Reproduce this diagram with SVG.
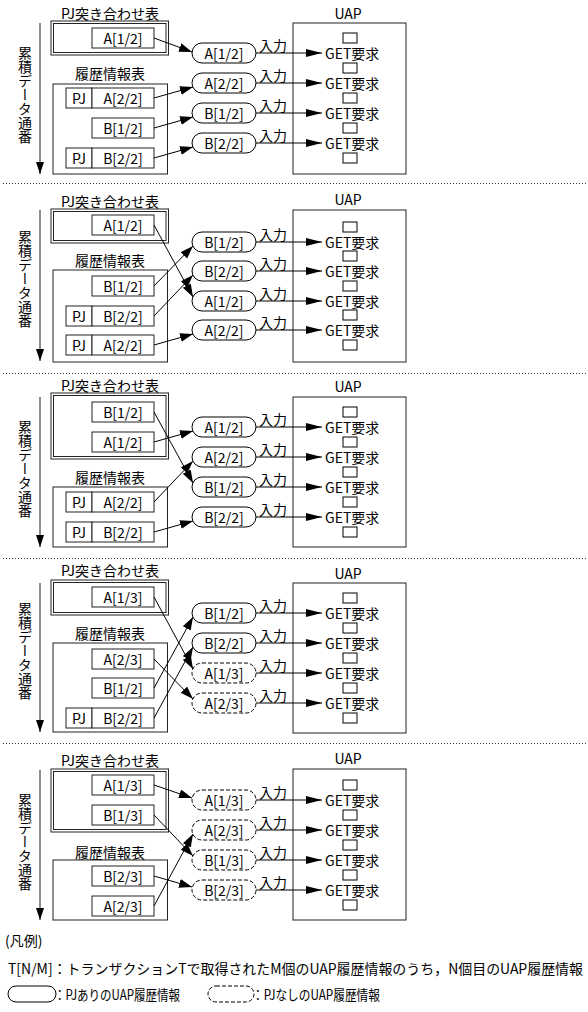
<svg xmlns="http://www.w3.org/2000/svg" width="588" height="1012" viewBox="0 0 588 1012">
<defs>
<style>
text{font-family:"Noto Sans CJK JP","Noto Sans CJK SC",sans-serif;font-size:14px;fill:#000}
.c{text-anchor:middle;dominant-baseline:central}
.l{text-anchor:start;dominant-baseline:central}
.bx{fill:#fff;stroke:#222;stroke-width:1}
.pill{fill:#fff;stroke:#000;stroke-width:1}
.dash{fill:#fff;stroke:#000;stroke-width:1;stroke-dasharray:4 2}
.sq{fill:#fff;stroke:#000;stroke-width:1}
.cn{fill:none;stroke:#000;stroke-width:1;marker-end:url(#ah)}
.ua{fill:none;stroke:#000;stroke-width:1;marker-end:url(#ah2)}
.va{fill:none;stroke:#666;stroke-width:1.5;marker-end:url(#ah3)}
.sep{fill:none;stroke:#333;stroke-width:1;stroke-dasharray:1 2}
.vt{writing-mode:vertical-rl;text-anchor:middle;font-size:14px}
</style>
<marker id="ah" markerUnits="userSpaceOnUse" markerWidth="13" markerHeight="10" refX="13" refY="4.5" orient="auto"><path d="M0,0 L13,4.5 L0,9 z" fill="#000"/></marker>
<marker id="ah2" markerUnits="userSpaceOnUse" markerWidth="16" markerHeight="9" refX="16" refY="4" orient="auto"><path d="M0,0 L16,4 L0,8 z" fill="#000"/></marker>
<marker id="ah3" markerUnits="userSpaceOnUse" markerWidth="12" markerHeight="8" refX="12" refY="4" orient="auto"><path d="M0,0 L12,4 L0,8 z" fill="#000"/></marker>
</defs>
<rect x="0" y="0" width="588" height="1012" fill="#fff"/>

<g id="separators">
<line class="sep" x1="3" y1="183.5" x2="586" y2="183.5"/>
<line class="sep" x1="3" y1="373.5" x2="586" y2="373.5"/>
<line class="sep" x1="3" y1="558.5" x2="586" y2="558.5"/>
<line class="sep" x1="3" y1="743.5" x2="586" y2="743.5"/>
</g>

<!-- ===== Panel 1 ===== -->
<g id="panel1">
<g id="p1-seq"><path class="va" d="M40,23 V174"/><text class="vt" x="25" y="95">累積データ通番</text></g>
<g id="p1-pj"><text class="c" x="110" y="13">PJ突き合わせ表</text>
<rect class="bx" x="51" y="21" width="117.5" height="34"/><rect class="bx" x="53.5" y="23.5" width="112.5" height="29"/>
<g id="p1-pj-a12"><rect class="bx" x="92" y="28" width="62" height="20"/><text class="c" x="123" y="38">A[1/2]</text></g></g>
<g id="p1-hist"><text class="c" x="110" y="73">履歴情報表</text>
<rect class="bx" x="53" y="84" width="114.5" height="90"/>
<g id="p1-h-a22"><rect class="bx" x="66" y="88" width="26" height="20"/><text class="c" x="79" y="98">PJ</text><rect class="bx" x="92" y="88" width="62" height="20"/><text class="c" x="123" y="98">A[2/2]</text></g>
<g id="p1-h-b12"><rect class="bx" x="92" y="118" width="62" height="20"/><text class="c" x="123" y="128">B[1/2]</text></g>
<g id="p1-h-b22"><rect class="bx" x="66" y="148" width="26" height="20"/><text class="c" x="79" y="158">PJ</text><rect class="bx" x="92" y="148" width="62" height="20"/><text class="c" x="123" y="158">B[2/2]</text></g></g>
<g id="p1-pill1"><rect class="pill" x="192" y="43" width="64" height="20" rx="10"/><text class="c" x="224" y="53">A[1/2]</text></g>
<g id="p1-pill2"><rect class="pill" x="192" y="73" width="64" height="20" rx="10"/><text class="c" x="224" y="83">A[2/2]</text></g>
<g id="p1-pill3"><rect class="pill" x="192" y="103" width="64" height="20" rx="10"/><text class="c" x="224" y="113">B[1/2]</text></g>
<g id="p1-pill4"><rect class="pill" x="192" y="133" width="64" height="20" rx="10"/><text class="c" x="224" y="143">B[2/2]</text></g>
<g id="p1-uap"><text class="c" x="348" y="13">UAP</text><rect class="bx" x="293" y="23" width="113" height="151"/>
<rect class="sq" x="343" y="33" width="14" height="10"/><rect class="sq" x="343" y="63" width="14" height="10"/><rect class="sq" x="343" y="93" width="14" height="10"/><rect class="sq" x="343" y="123" width="14" height="10"/><rect class="sq" x="343" y="153" width="14" height="10"/>
<text class="l" x="325" y="53">GET要求</text><text class="l" x="325" y="83">GET要求</text><text class="l" x="325" y="113">GET要求</text><text class="l" x="325" y="143">GET要求</text></g>
</g>
<g id="p1-connectors">
<path class="cn" d="M154,38 L192,52"/><path class="cn" d="M154,98 L193,87"/><path class="cn" d="M154,128 L193,117"/><path class="cn" d="M154,158 L193,147"/>
<path class="ua" d="M256,53 H322"/><path class="ua" d="M256,83 H322"/><path class="ua" d="M256,113 H322"/><path class="ua" d="M256,143 H322"/>
<text class="c" x="273" y="45">入力</text><text class="c" x="273" y="75">入力</text><text class="c" x="273" y="105">入力</text><text class="c" x="273" y="135">入力</text>
</g>

<!-- ===== Panel 2 ===== -->
<g id="panel2">
<g id="p2-seq"><path class="va" d="M40,210 V361"/><text class="vt" x="25" y="279">累積データ通番</text></g>
<g id="p2-pj"><text class="c" x="110" y="201">PJ突き合わせ表</text>
<rect class="bx" x="51" y="209" width="117.5" height="34"/><rect class="bx" x="53.5" y="211.5" width="112.5" height="29"/>
<g id="p2-pj-a12"><rect class="bx" x="92" y="215" width="62" height="20"/><text class="c" x="123" y="225">A[1/2]</text></g></g>
<g id="p2-hist"><text class="c" x="110" y="260">履歴情報表</text>
<rect class="bx" x="53" y="270" width="114.5" height="92"/>
<g id="p2-h-b12"><rect class="bx" x="92" y="276" width="62" height="20"/><text class="c" x="123" y="286">B[1/2]</text></g>
<g id="p2-h-b22"><rect class="bx" x="66" y="306" width="26" height="20"/><text class="c" x="79" y="316">PJ</text><rect class="bx" x="92" y="306" width="62" height="20"/><text class="c" x="123" y="316">B[2/2]</text></g>
<g id="p2-h-a22"><rect class="bx" x="66" y="335" width="26" height="20"/><text class="c" x="79" y="345">PJ</text><rect class="bx" x="92" y="335" width="62" height="20"/><text class="c" x="123" y="345">A[2/2]</text></g></g>
<g id="p2-pill1"><rect class="pill" x="192" y="232" width="64" height="20" rx="10"/><text class="c" x="224" y="242">B[1/2]</text></g>
<g id="p2-pill2"><rect class="pill" x="192" y="261" width="64" height="20" rx="10"/><text class="c" x="224" y="271">B[2/2]</text></g>
<g id="p2-pill3"><rect class="pill" x="192" y="291" width="64" height="20" rx="10"/><text class="c" x="224" y="301">A[1/2]</text></g>
<g id="p2-pill4"><rect class="pill" x="192" y="320" width="64" height="20" rx="10"/><text class="c" x="224" y="330">A[2/2]</text></g>
<g id="p2-uap"><text class="c" x="348" y="199">UAP</text><rect class="bx" x="293" y="210" width="113" height="152"/>
<rect class="sq" x="343" y="222" width="14" height="10"/><rect class="sq" x="343" y="251" width="14" height="10"/><rect class="sq" x="343" y="281" width="14" height="10"/><rect class="sq" x="343" y="310" width="14" height="10"/><rect class="sq" x="343" y="340" width="14" height="10"/>
<text class="l" x="325" y="242">GET要求</text><text class="l" x="325" y="271">GET要求</text><text class="l" x="325" y="301">GET要求</text><text class="l" x="325" y="330">GET要求</text></g>
</g>
<g id="p2-connectors">
<path class="cn" d="M154,225 L193,297"/><path class="cn" d="M154,286 L193,246"/><path class="cn" d="M154,316 L193,275"/><path class="cn" d="M154,345 L193,334"/>
<path class="ua" d="M256,242 H322"/><path class="ua" d="M256,271 H322"/><path class="ua" d="M256,301 H322"/><path class="ua" d="M256,330 H322"/>
<text class="c" x="273" y="234">入力</text><text class="c" x="273" y="263">入力</text><text class="c" x="273" y="293">入力</text><text class="c" x="273" y="322">入力</text>
</g>

<!-- ===== Panel 3 ===== -->
<g id="panel3">
<g id="p3-seq"><path class="va" d="M40,397 V547"/><text class="vt" x="25" y="469">累積データ通番</text></g>
<g id="p3-pj"><text class="c" x="110" y="385">PJ突き合わせ表</text>
<rect class="bx" x="51" y="393" width="117.5" height="66"/><rect class="bx" x="53.5" y="395.5" width="112.5" height="61"/>
<g id="p3-pj-b12"><rect class="bx" x="92" y="402" width="62" height="20"/><text class="c" x="123" y="412">B[1/2]</text></g>
<g id="p3-pj-a12"><rect class="bx" x="92" y="432" width="62" height="20"/><text class="c" x="123" y="442">A[1/2]</text></g></g>
<g id="p3-hist"><text class="c" x="110" y="477">履歴情報表</text>
<rect class="bx" x="53" y="487" width="114.5" height="60"/>
<g id="p3-h-a22"><rect class="bx" x="66" y="492" width="26" height="20"/><text class="c" x="79" y="502">PJ</text><rect class="bx" x="92" y="492" width="62" height="20"/><text class="c" x="123" y="502">A[2/2]</text></g>
<g id="p3-h-b22"><rect class="bx" x="66" y="522" width="26" height="20"/><text class="c" x="79" y="532">PJ</text><rect class="bx" x="92" y="522" width="62" height="20"/><text class="c" x="123" y="532">B[2/2]</text></g></g>
<g id="p3-pill1"><rect class="pill" x="192" y="417" width="64" height="20" rx="10"/><text class="c" x="224" y="427">A[1/2]</text></g>
<g id="p3-pill2"><rect class="pill" x="192" y="447" width="64" height="20" rx="10"/><text class="c" x="224" y="457">A[2/2]</text></g>
<g id="p3-pill3"><rect class="pill" x="192" y="477" width="64" height="20" rx="10"/><text class="c" x="224" y="487">B[1/2]</text></g>
<g id="p3-pill4"><rect class="pill" x="192" y="507" width="64" height="20" rx="10"/><text class="c" x="224" y="517">B[2/2]</text></g>
<g id="p3-uap"><text class="c" x="348" y="386">UAP</text><rect class="bx" x="293" y="397" width="113" height="150"/>
<rect class="sq" x="343" y="407" width="14" height="10"/><rect class="sq" x="343" y="437" width="14" height="10"/><rect class="sq" x="343" y="467" width="14" height="10"/><rect class="sq" x="343" y="497" width="14" height="10"/><rect class="sq" x="343" y="527" width="14" height="10"/>
<text class="l" x="325" y="427">GET要求</text><text class="l" x="325" y="457">GET要求</text><text class="l" x="325" y="487">GET要求</text><text class="l" x="325" y="517">GET要求</text></g>
</g>
<g id="p3-connectors">
<path class="cn" d="M154,412 L193,483"/><path class="cn" d="M154,442 L193,431"/><path class="cn" d="M154,502 L193,461"/><path class="cn" d="M154,532 L193,521"/>
<path class="ua" d="M256,427 H322"/><path class="ua" d="M256,457 H322"/><path class="ua" d="M256,487 H322"/><path class="ua" d="M256,517 H322"/>
<text class="c" x="273" y="419">入力</text><text class="c" x="273" y="449">入力</text><text class="c" x="273" y="479">入力</text><text class="c" x="273" y="509">入力</text>
</g>

<!-- ===== Panel 4 ===== -->
<g id="panel4">
<g id="p4-seq"><path class="va" d="M40,583 V732"/><text class="vt" x="25" y="651">累積データ通番</text></g>
<g id="p4-pj"><text class="c" x="110" y="570">PJ突き合わせ表</text>
<rect class="bx" x="51" y="580" width="117.5" height="35"/><rect class="bx" x="53.5" y="582.5" width="112.5" height="30"/>
<g id="p4-pj-a13"><rect class="bx" x="92" y="587" width="62" height="20"/><text class="c" x="123" y="597">A[1/3]</text></g></g>
<g id="p4-hist"><text class="c" x="110" y="633">履歴情報表</text>
<rect class="bx" x="53" y="643" width="114.5" height="89"/>
<g id="p4-h-a23"><rect class="bx" x="92" y="649" width="62" height="20"/><text class="c" x="123" y="659">A[2/3]</text></g>
<g id="p4-h-b12"><rect class="bx" x="92" y="678" width="62" height="20"/><text class="c" x="123" y="688">B[1/2]</text></g>
<g id="p4-h-b22"><rect class="bx" x="66" y="708" width="26" height="20"/><text class="c" x="79" y="718">PJ</text><rect class="bx" x="92" y="708" width="62" height="20"/><text class="c" x="123" y="718">B[2/2]</text></g></g>
<g id="p4-pill1"><rect class="pill" x="192" y="603" width="64" height="20" rx="10"/><text class="c" x="224" y="613">B[1/2]</text></g>
<g id="p4-pill2"><rect class="pill" x="192" y="633" width="64" height="20" rx="10"/><text class="c" x="224" y="643">B[2/2]</text></g>
<g id="p4-pill3"><rect class="dash" x="192" y="663" width="64" height="20" rx="10"/><text class="c" x="224" y="673">A[1/3]</text></g>
<g id="p4-pill4"><rect class="dash" x="192" y="693" width="64" height="20" rx="10"/><text class="c" x="224" y="703">A[2/3]</text></g>
<g id="p4-uap"><text class="c" x="348" y="573">UAP</text><rect class="bx" x="293" y="583" width="113" height="150"/>
<rect class="sq" x="343" y="593" width="14" height="10"/><rect class="sq" x="343" y="623" width="14" height="10"/><rect class="sq" x="343" y="653" width="14" height="10"/><rect class="sq" x="343" y="683" width="14" height="10"/><rect class="sq" x="343" y="713" width="14" height="10"/>
<text class="l" x="325" y="613">GET要求</text><text class="l" x="325" y="643">GET要求</text><text class="l" x="325" y="673">GET要求</text><text class="l" x="325" y="703">GET要求</text></g>
</g>
<g id="p4-connectors">
<path class="cn" d="M154,597 L193,669"/><path class="cn" d="M154,659 L193,699"/><path class="cn" d="M154,688 L193,617"/><path class="cn" d="M154,718 L193,647"/>
<path class="ua" d="M256,613 H322"/><path class="ua" d="M256,643 H322"/><path class="ua" d="M256,673 H322"/><path class="ua" d="M256,703 H322"/>
<text class="c" x="273" y="605">入力</text><text class="c" x="273" y="635">入力</text><text class="c" x="273" y="665">入力</text><text class="c" x="273" y="695">入力</text>
</g>

<!-- ===== Panel 5 ===== -->
<g id="panel5">
<g id="p5-seq"><path class="va" d="M40,770 V920"/><text class="vt" x="25" y="842">累積データ通番</text></g>
<g id="p5-pj"><text class="c" x="110" y="760">PJ突き合わせ表</text>
<rect class="bx" x="51" y="769" width="117.5" height="63"/><rect class="bx" x="53.5" y="771.5" width="112.5" height="58"/>
<g id="p5-pj-a13"><rect class="bx" x="92" y="775" width="62" height="20"/><text class="c" x="123" y="785">A[1/3]</text></g>
<g id="p5-pj-b13"><rect class="bx" x="92" y="805" width="62" height="20"/><text class="c" x="123" y="815">B[1/3]</text></g></g>
<g id="p5-hist"><text class="c" x="110" y="852">履歴情報表</text>
<rect class="bx" x="53" y="860" width="114.5" height="60"/>
<g id="p5-h-b23"><rect class="bx" x="92" y="866" width="62" height="20"/><text class="c" x="123" y="876">B[2/3]</text></g>
<g id="p5-h-a23"><rect class="bx" x="92" y="896" width="62" height="20"/><text class="c" x="123" y="906">A[2/3]</text></g></g>
<g id="p5-pill1"><rect class="dash" x="192" y="790" width="64" height="20" rx="10"/><text class="c" x="224" y="800">A[1/3]</text></g>
<g id="p5-pill2"><rect class="dash" x="192" y="820" width="64" height="20" rx="10"/><text class="c" x="224" y="830">A[2/3]</text></g>
<g id="p5-pill3"><rect class="dash" x="192" y="850" width="64" height="20" rx="10"/><text class="c" x="224" y="860">B[1/3]</text></g>
<g id="p5-pill4"><rect class="dash" x="192" y="880" width="64" height="20" rx="10"/><text class="c" x="224" y="890">B[2/3]</text></g>
<g id="p5-uap"><text class="c" x="348" y="758">UAP</text><rect class="bx" x="293" y="769" width="113" height="151"/>
<rect class="sq" x="343" y="780" width="14" height="10"/><rect class="sq" x="343" y="810" width="14" height="10"/><rect class="sq" x="343" y="840" width="14" height="10"/><rect class="sq" x="343" y="870" width="14" height="10"/><rect class="sq" x="343" y="900" width="14" height="10"/>
<text class="l" x="325" y="800">GET要求</text><text class="l" x="325" y="830">GET要求</text><text class="l" x="325" y="860">GET要求</text><text class="l" x="325" y="890">GET要求</text></g>
</g>
<g id="p5-connectors">
<path class="cn" d="M154,785 L192,798"/><path class="cn" d="M154,815 L193,856"/><path class="cn" d="M154,876 L192,887"/><path class="cn" d="M154,906 L193,834"/>
<path class="ua" d="M256,800 H322"/><path class="ua" d="M256,830 H322"/><path class="ua" d="M256,860 H322"/><path class="ua" d="M256,890 H322"/>
<text class="c" x="273" y="792">入力</text><text class="c" x="273" y="822">入力</text><text class="c" x="273" y="852">入力</text><text class="c" x="273" y="882">入力</text>
</g>

<!-- ===== Legend ===== -->
<g id="legend">
<text class="l" x="5" y="940" font-size="13">(凡例)</text>
<text class="l" x="8" y="968" font-size="13" textLength="575" lengthAdjust="spacingAndGlyphs">T[N/M]：トランザクションTで取得されたM個のUAP履歴情報のうち，N個目のUAP履歴情報</text>
<g id="legend-solid"><rect class="pill" x="8" y="986" width="48" height="16" rx="8"/><text class="l" x="54" y="994" font-size="13" textLength="126" lengthAdjust="spacingAndGlyphs">：PJありのUAP履歴情報</text></g>
<g id="legend-dashed"><rect class="dash" x="208" y="986" width="46" height="16" rx="8"/><text class="l" x="252" y="994" font-size="13" textLength="128" lengthAdjust="spacingAndGlyphs">：PJなしのUAP履歴情報</text></g>
</g>
</svg>
